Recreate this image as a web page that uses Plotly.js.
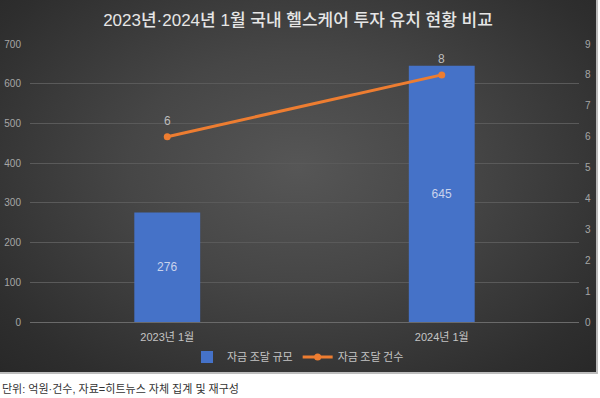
<!DOCTYPE html>
<html><head><meta charset="utf-8">
<script src="https://cdn.plot.ly/plotly-3.0.1.min.js"></script>
<style>
html,body{margin:0;padding:0;background:#fff;width:600px;height:398px;overflow:hidden;}
#wrap{position:relative;width:600px;height:398px;}
#chart{position:absolute;left:0;top:0;width:596px;height:372px;
 background:radial-gradient(ellipse at 50% 45%, #565656 0%, #464646 40%, #2e2e2e 85%, #282828 100%);
 border-right:2px solid #bdbdbd;border-bottom:2px solid #bdbdbd;}
#cap{position:absolute;left:2px;top:380px;font-family:"Liberation Sans","Noto Sans CJK KR",sans-serif;font-size:11px;color:#333;}
</style></head>
<body><div id="wrap"><div id="chart"></div><div id="cap">단위: 억원·건수, 자료=히트뉴스 자체 집계 및 재구성</div></div>
<script>
const categories = ["2023년 1월", "2024년 1월"];
const fundingAmount = [276, 645];
const fundingCount = [6, 8];
const seriesNames = ["자금 조달 규모", "자금 조달 건수"];
const titleText = "2023년·2024년 1월 국내 헬스케어 투자 유치 현황 비교";
const leftTicks = [0,100,200,300,400,500,600,700];
const rightTicks = [0,1,2,3,4,5,6,7,8,9];

const FONT = '"Liberation Sans","Noto Sans CJK KR",sans-serif';
const data = [
 {type:'bar', x:categories, y:fundingAmount, name:seriesNames[0], width:0.24,
  marker:{color:'#4572c8', line:{width:0}},
  text:fundingAmount.map(String), textposition:'inside', insidetextanchor:'middle',
  textfont:{color:'#c9d3ec', size:12, family:FONT}, hoverinfo:'skip'},
 {type:'scatter', mode:'lines+markers', x:categories, y:fundingCount, yaxis:'y2', name:seriesNames[1],
  line:{color:'#ed7d31', width:3}, marker:{color:'#ed7d31', size:7}, hoverinfo:'skip'}
];
const lineLabels = categories.map((c,i)=>({x:c, y:fundingCount[i], xref:'x', yref:'y2', text:String(fundingCount[i]),
  showarrow:false, yshift:16, font:{color:'#bdbdbd', size:12, family:FONT}}));
const layout = {
 width:596, height:372,
 paper_bgcolor:'rgba(0,0,0,0)', plot_bgcolor:'rgba(0,0,0,0)',
 margin:{l:30, r:17, t:44, b:50},
 font:{family:FONT, color:'#a6a6a6'},
 title:{text:titleText, font:{size:17, color:'#e6e6e6', family:FONT, weight:500},
   x:0.5, xanchor:'center', y:1-20/372, yanchor:'middle', yref:'container'},
 annotations:lineLabels,
 showlegend:true,
 legend:{orientation:'h', xref:'container', yref:'container', x:0.5, xanchor:'center', y:1-357/372, yanchor:'middle',
   font:{size:11, color:'#c4c4c4', family:'"Noto Sans CJK KR",sans-serif'}, itemwidth:30, traceorder:'normal', bgcolor:'rgba(0,0,0,0)'},
 xaxis:{type:'category', tickfont:{size:11, color:'#c4c4c4', family:FONT}, showgrid:false, zeroline:false,
   showline:true, linecolor:'#6a6a6a', linewidth:1, ticks:'', ticklabelstandoff:5, fixedrange:true},
 yaxis:{range:[0,700], tickvals:leftTicks, tickfont:{size:10, color:'#a6a6a6'}, gridcolor:'#5a5a5a', gridwidth:1,
   zeroline:false, showline:false, ticks:'', ticklabelstandoff:8, fixedrange:true},
 yaxis2:{range:[0,9], tickvals:rightTicks, overlaying:'y', side:'right', showgrid:false, zeroline:false,
   tickfont:{size:10, color:'#a6a6a6'}, ticks:'', ticklabelstandoff:5, fixedrange:true},
 bargap:0.76
};
Plotly.newPlot('chart', data, layout, {displayModeBar:false, staticPlot:true});
</script></body></html>
